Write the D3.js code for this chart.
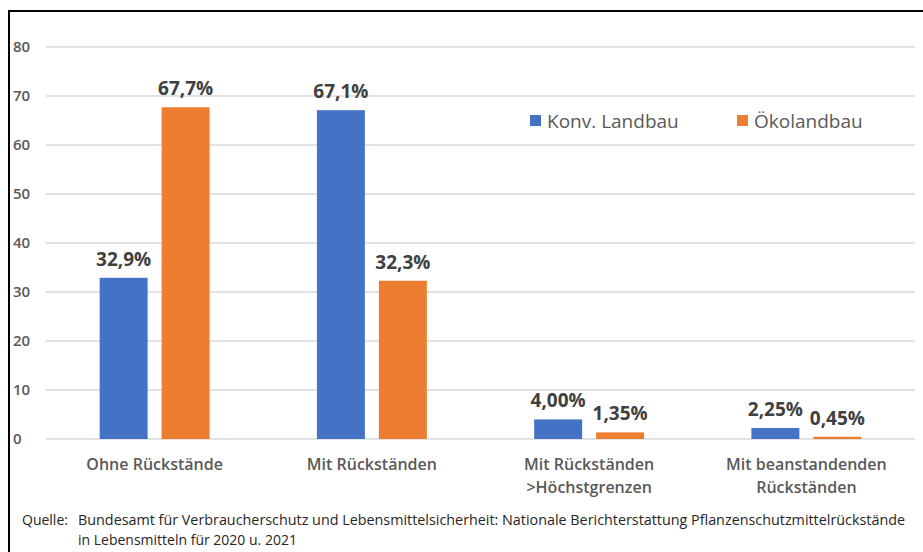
<!DOCTYPE html>
<html>
<head>
<meta charset="utf-8">
<script src="https://cdn.jsdelivr.net/npm/d3@7"></script>
<style>
  body { margin: 0; background: #fff; }
  svg { display: block; font-family: "Open Sans", "Noto Sans", sans-serif; }
</style>
</head>
<body>
<script>
// data
var categories = [["Ohne Rückstände"], ["Mit Rückständen"], ["Mit Rückständen", ">Höchstgrenzen"], ["Mit beanstandenden", "Rückständen"]];
var seriesNames = ["Konv. Landbau", "Ökolandbau"];
var konv = [32.9, 67.1, 4.00, 2.25];
var oeko = [67.7, 32.3, 1.35, 0.45];
var konvLabels = ["32,9%", "67,1%", "4,00%", "2,25%"];
var oekoLabels = ["67,7%", "32,3%", "1,35%", "0,45%"];
var yTicks = [0, 10, 20, 30, 40, 50, 60, 70, 80];
var colors = ["#4472C4", "#ED7D31"];

var width = 923, height = 552;
// plot area (note: "top" is reserved on window, so use own names)
var plotLeft = 46, plotRight = 915, plotTop = 47, plotBottom = 439;

var svg = d3.select("body").append("svg")
    .attr("width", width)
    .attr("height", height);

// frame (only top and left edges are visible in the picture)
svg.append("path")
    .attr("d", "M9," + height + " V11 H" + width)
    .attr("fill", "none")
    .attr("stroke", "#000")
    .attr("stroke-width", 2);

var y = d3.scaleLinear().domain([0, 80]).range([plotBottom, plotTop]);
var x0 = d3.scaleBand().domain(d3.range(categories.length)).range([plotLeft, plotRight])
    .paddingInner(0.494).paddingOuter(0.247);
var x1 = d3.scaleBand().domain(d3.range(2)).range([0, x0.bandwidth()])
    .paddingInner(0.226);

// grid
svg.append("g").selectAll("line")
    .data(yTicks)
    .enter().append("line")
    .attr("x1", plotLeft).attr("x2", plotRight)
    .attr("y1", d => y(d)).attr("y2", d => y(d))
    .attr("stroke", "#D9D9D9")
    .attr("stroke-width", 1.3);

// y tick labels
svg.append("g").selectAll("text")
    .data(yTicks)
    .enter().append("text")
    .attr("x", 13)
    .attr("y", d => y(d) + 5)
    .attr("font-size", 15)
    .attr("font-weight", 600)
    .attr("fill", "#595959")
    .text(d => d);

var series = [konv, oeko];
var labels = [konvLabels, oekoLabels];

series.forEach(function (vals, s) {
  var g = svg.append("g");
  g.selectAll("rect")
    .data(vals)
    .enter().append("rect")
    .attr("x", (d, i) => x0(i) + x1(s))
    .attr("width", x1.bandwidth())
    .attr("y", d => y(d))
    .attr("height", d => plotBottom - y(d))
    .attr("fill", colors[s]);
  g.selectAll("text")
    .data(vals)
    .enter().append("text")
    .attr("x", (d, i) => x0(i) + x1(s) + x1.bandwidth() / 2)
    .attr("y", d => y(d) - 12)
    .attr("text-anchor", "middle")
    .attr("font-size", 19)
    .attr("font-weight", 700)
    .attr("fill", "#404040")
    .text((d, i) => labels[s][i]);
});

// category labels
var cat = svg.append("g").selectAll("text")
    .data(categories)
    .enter().append("text")
    .attr("x", (d, i) => x0(i) + x0.bandwidth() / 2)
    .attr("y", 470)
    .attr("text-anchor", "middle")
    .attr("font-size", 16)
    .attr("font-weight", 600)
    .attr("fill", "#595959");
cat.selectAll("tspan")
    .data(d => d)
    .enter().append("tspan")
    .attr("x", function () { return d3.select(this.parentNode).attr("x"); })
    .attr("dy", (d, i) => i === 0 ? 0 : 23)
    .text(d => d);

// legend
var legendX = [530, 737];
var leg = svg.append("g").selectAll("g")
    .data(seriesNames)
    .enter().append("g")
    .attr("transform", (d, i) => "translate(" + legendX[i] + ",115)");
leg.append("rect")
    .attr("width", 11).attr("height", 11)
    .attr("fill", (d, i) => colors[i]);
leg.append("text")
    .attr("x", 17).attr("y", 13)
    .attr("font-size", 19)
    .attr("fill", "#595959")
    .text(d => d);

// source
svg.append("text")
    .attr("x", 22).attr("y", 525)
    .attr("font-size", 14)
    .attr("fill", "#262626")
    .text("Quelle:");
svg.append("text")
    .attr("x", 78).attr("y", 525)
    .attr("font-size", 14)
    .attr("fill", "#262626")
    .attr("textLength", 827)
    .attr("lengthAdjust", "spacingAndGlyphs")
    .text("Bundesamt für Verbraucherschutz und Lebensmittelsicherheit: Nationale Berichterstattung Pflanzenschutzmittelrückstände");
svg.append("text")
    .attr("x", 78).attr("y", 545)
    .attr("font-size", 14)
    .attr("fill", "#262626")
    .text("in Lebensmitteln für 2020 u. 2021");
</script>
</body>
</html>
